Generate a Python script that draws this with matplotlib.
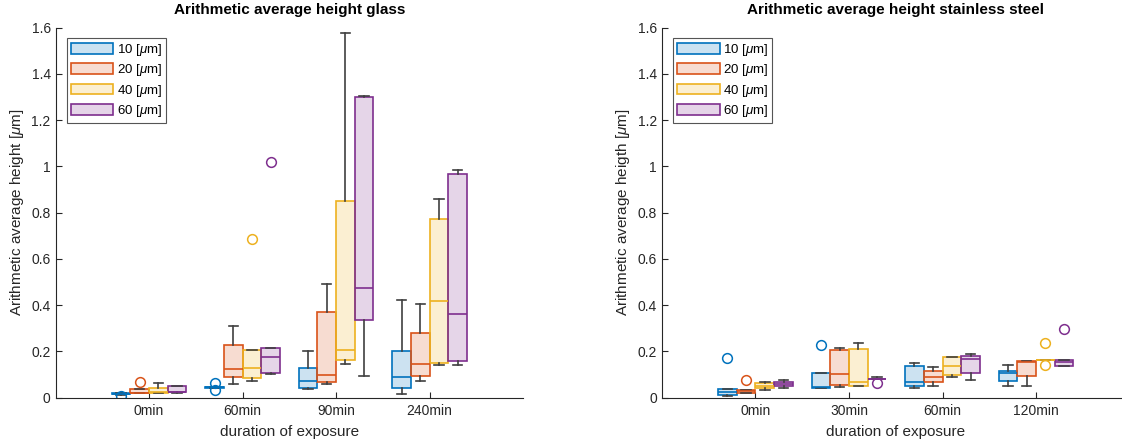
import numpy as np
import matplotlib.pyplot as plt
from matplotlib.colors import to_rgba
from matplotlib.patches import Patch

plt.rcParams['font.family'] = ['Liberation Sans', 'DejaVu Sans']
plt.rcParams['mathtext.fontset'] = 'custom'
plt.rcParams['mathtext.it'] = 'Liberation Sans:italic'

series = ['10 [$\\mu$m]', '20 [$\\mu$m]', '40 [$\\mu$m]', '60 [$\\mu$m]']
colors = ['#0072BD', '#D95319', '#EDB120', '#7E2F8E']

# glass: rows = series, cols = exposure groups
glass_groups = ['0min', '60min', '90min', '240min']
glass_lo = [[0.013, 0.043, 0.038, 0.016],
            [0.018, 0.058, 0.058, 0.070],
            [0.018, 0.072, 0.145, 0.140],
            [0.020, 0.100, 0.094, 0.140]]
glass_q1 = [[0.014, 0.043, 0.042, 0.040],
            [0.018, 0.087, 0.068, 0.094],
            [0.018, 0.083, 0.162, 0.148],
            [0.022, 0.106, 0.334, 0.159]]
glass_med = [[0.016, 0.045, 0.071, 0.087],
             [0.020, 0.122, 0.097, 0.146],
             [0.025, 0.129, 0.204, 0.416],
             [0.025, 0.174, 0.475, 0.361]]
glass_q3 = [[0.019, 0.047, 0.129, 0.200],
            [0.035, 0.228, 0.368, 0.279],
            [0.041, 0.204, 0.848, 0.771],
            [0.048, 0.215, 1.298, 0.965]]
glass_hi = [[0.020, 0.047, 0.200, 0.423],
            [0.035, 0.310, 0.492, 0.403],
            [0.061, 0.204, 1.575, 0.857],
            [0.048, 0.215, 1.305, 0.982]]
glass_fliers = [[[0.008], [0.064, 0.034], [], []],
                [[0.066], [], [], []],
                [[], [0.686], [], []],
                [[], [1.02], [], []]]

# stainless steel
steel_groups = ['0min', '30min', '60min', '120min']
steel_lo = [[0.008, 0.040, 0.043, 0.051],
            [0.018, 0.044, 0.048, 0.048],
            [0.032, 0.048, 0.089, 0.162],
            [0.042, 0.080, 0.077, 0.136]]
steel_q1 = [[0.012, 0.040, 0.050, 0.073],
            [0.021, 0.054, 0.068, 0.093],
            [0.042, 0.051, 0.096, 0.162],
            [0.048, 0.080, 0.105, 0.136]]
steel_med = [[0.026, 0.045, 0.066, 0.107],
             [0.028, 0.100, 0.087, 0.155],
             [0.050, 0.066, 0.138, 0.162],
             [0.057, 0.080, 0.165, 0.155]]
steel_q3 = [[0.037, 0.105, 0.138, 0.115],
            [0.032, 0.205, 0.113, 0.157],
            [0.061, 0.211, 0.175, 0.162],
            [0.066, 0.080, 0.180, 0.162]]
steel_hi = [[0.037, 0.105, 0.148, 0.142],
            [0.032, 0.213, 0.132, 0.157],
            [0.067, 0.234, 0.175, 0.162],
            [0.076, 0.089, 0.189, 0.162]]
steel_fliers = [[[0.170], [0.228], [], []],
                [[0.074], [], [], []],
                [[], [], [], [0.237, 0.142]],
                [[], [0.063], [], [0.296]]]

yticks = [0, 0.2, 0.4, 0.6, 0.8, 1.0, 1.2, 1.4, 1.6]
ytick_labels = ['0', '0.2', '0.4', '0.6', '0.8', '1', '1.2', '1.4', '1.6']

axcol = '#262626'
whiskcol = '#404040'


def draw_panel(ax, groups, lo, q1, med, q3, hi, fliers, title, ylabel):
    offsets = [-0.3, -0.1, 0.1, 0.3]
    for s in range(4):
        stats = []
        for g in range(len(groups)):
            stats.append(dict(whislo=lo[s][g], q1=q1[s][g], med=med[s][g],
                              q3=q3[s][g], whishi=hi[s][g], fliers=fliers[s][g]))
        pos = [g + 1 + offsets[s] for g in range(len(groups))]
        c = colors[s]
        ax.bxp(stats, positions=pos, widths=0.2, patch_artist=True,
               showfliers=True, manage_ticks=False, capwidths=0.1,
               boxprops=dict(facecolor=to_rgba(c, 0.2), edgecolor=c, linewidth=1.2),
               medianprops=dict(color=c, linewidth=1.2),
               whiskerprops=dict(color=whiskcol, linewidth=1.2),
               capprops=dict(color=whiskcol, linewidth=1.2),
               flierprops=dict(marker='o', markerfacecolor='none',
                               markeredgecolor=c, markersize=7, markeredgewidth=1.1))
    ax.set_xlim(0, 5)
    ax.set_ylim(0, 1.6)
    ax.set_xticks(range(1, len(groups) + 1))
    ax.set_xticklabels(groups)
    ax.set_yticks(yticks)
    ax.set_yticklabels(ytick_labels)
    ax.tick_params(direction='in', length=4, labelsize=10, colors=axcol, width=0.8)
    ax.tick_params(axis='x', pad=5)
    for side in ['top', 'right']:
        ax.spines[side].set_visible(False)
    for side in ['left', 'bottom']:
        ax.spines[side].set_color(axcol)
        ax.spines[side].set_linewidth(0.8)
    ax.set_title(title, fontsize=11, fontweight='bold', pad=10)
    ax.set_xlabel('duration of exposure', fontsize=11, color=axcol, labelpad=5)
    ax.set_ylabel(ylabel, fontsize=11, color=axcol)
    handles = [Patch(facecolor=to_rgba(c, 0.2), edgecolor=c, linewidth=1.2) for c in colors]
    leg = ax.legend(handles, series, loc='upper left', bbox_to_anchor=(0.0246, 0.972),
                    borderaxespad=0, fontsize=9.5, fancybox=False, edgecolor='#555555',
                    handlelength=3.2, handleheight=0.85, handletextpad=0.25,
                    labelspacing=0.33, borderpad=0.3, framealpha=1)
    leg.get_frame().set_linewidth(0.8)


fig = plt.figure(figsize=(11.22, 4.45), dpi=100)
ax1 = fig.add_axes([0.0495, 0.1067, 0.4167, 0.8315])
ax2 = fig.add_axes([0.5900, 0.1067, 0.4167, 0.8315])

draw_panel(ax1, glass_groups, glass_lo, glass_q1, glass_med, glass_q3, glass_hi,
           glass_fliers, 'Arithmetic average height glass',
           'Arithmetic average height [$\\mu$m]')
draw_panel(ax2, steel_groups, steel_lo, steel_q1, steel_med, steel_q3, steel_hi,
           steel_fliers, 'Arithmetic average height stainless steel',
           'Arithmetic average heigth [$\\mu$m]')

fig.savefig('out.png', dpi=100)
